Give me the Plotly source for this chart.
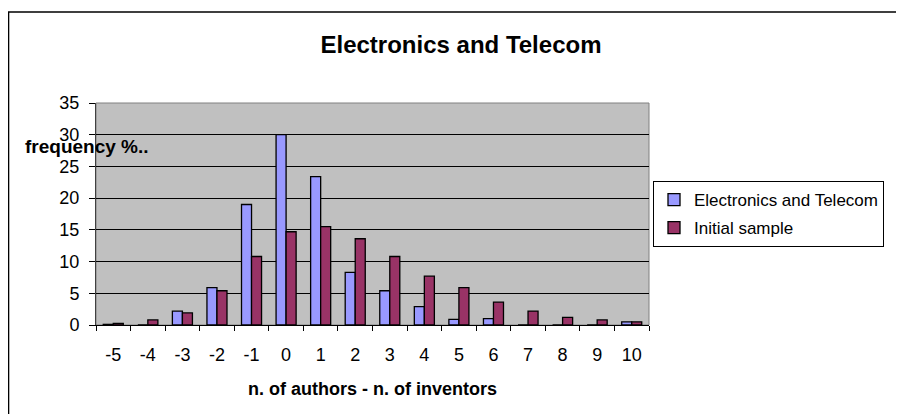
import plotly.graph_objects as go

categories = ["-5", "-4", "-3", "-2", "-1", "0", "1", "2", "3", "4", "5", "6", "7", "8", "9", "10"]
electronics = [0.1, 0.0, 2.2, 5.9, 19.0, 30.0, 23.4, 8.3, 5.4, 2.9, 0.9, 1.0, 0.0, 0.0, 0.0, 0.5]
initial = [0.25, 0.8, 1.9, 5.4, 10.8, 14.7, 15.5, 13.6, 10.8, 7.7, 5.9, 3.6, 2.2, 1.2, 0.8, 0.5]
y_ticks = [0, 5, 10, 15, 20, 25, 30, 35]

FONT = "Liberation Sans, Arial, sans-serif"

# page offset from the browser's default body margin
OX, OY = 8, 8
W, H = 904 - OX, 414 - OY
L, R, T, B = 96 - OX, 649 - OX, 103 - OY, 325 - OY
pw, ph = R - L, B - T

fig = go.Figure()
fig.add_trace(go.Bar(x=categories, y=electronics, name="Electronics and Telecom",
                     legendgroup="a",
                     marker=dict(color="#9999FF", line=dict(color="black", width=1.3))))
fig.add_trace(go.Bar(x=categories, y=initial, name="Initial sample",
                     legendgroup="b",
                     marker=dict(color="#993366", line=dict(color="black", width=1.3))))

fig.update_layout(
    width=W, height=H,
    margin=dict(l=L, r=W - R, t=T, b=H - B),
    paper_bgcolor="white", plot_bgcolor="#C0C0C0",
    font=dict(family=FONT, size=18, color="black"),
    barmode="group", bargap=0.42, bargroupgap=0.0,
    title=dict(text="<b>Electronics and Telecom</b>", x=(461 - OX) / W, xref="container",
               xanchor="center", y=1 - (45 - OY) / H, yref="container", yanchor="middle",
               font=dict(size=24, family=FONT, color="black")),
    legend=dict(x=(653 - OX - L) / pw, xanchor="left", y=(B - (181 - OY)) / ph, yanchor="top",
                bordercolor="black", borderwidth=1, bgcolor="white",
                font=dict(size=17, family=FONT), itemwidth=30,
                tracegroupgap=3),
    xaxis=dict(type="category", tickson="boundaries", ticks="outside", ticklen=5,
               tickcolor="black", showline=True, linecolor="black", linewidth=1,
               showgrid=False, range=[-0.5, 15.5], tickfont=dict(size=18),
               ticklabelstandoff=13,
               title=dict(text="<b>n. of authors - n. of inventors</b>",
                          font=dict(size=18), standoff=18)),
    yaxis=dict(range=[0, 35], tickvals=y_ticks, ticks="outside", ticklen=6,
               tickcolor="black", showline=True, linecolor="#404040", linewidth=1,
               showgrid=True, gridcolor="black", gridwidth=1, zeroline=False,
               tickfont=dict(size=18), ticklabelstandoff=6),
    showlegend=True,
)

# plot area border (gray) and outer chart border
fig.add_shape(type="rect", xref="paper", yref="paper", x0=0, x1=1, y0=0, y1=1,
              line=dict(color="#808080", width=1), layer="below")
fig.add_shape(type="rect", xref="paper", yref="paper",
              x0=(0.5 - L) / pw, x1=(W + 20 - L) / pw,
              y0=(B - (H + 20)) / ph, y1=(B - (12 - OY)) / ph,
              line=dict(color="black", width=1.6))

fig.add_annotation(text="<b>frequency %..</b>", xref="paper", yref="paper",
                   x=(23 - OX - L) / pw, xanchor="left", y=(B - (146 - OY)) / ph, yanchor="middle",
                   showarrow=False, font=dict(size=19, family=FONT, color="black"))

fig.write_html("out.html")
